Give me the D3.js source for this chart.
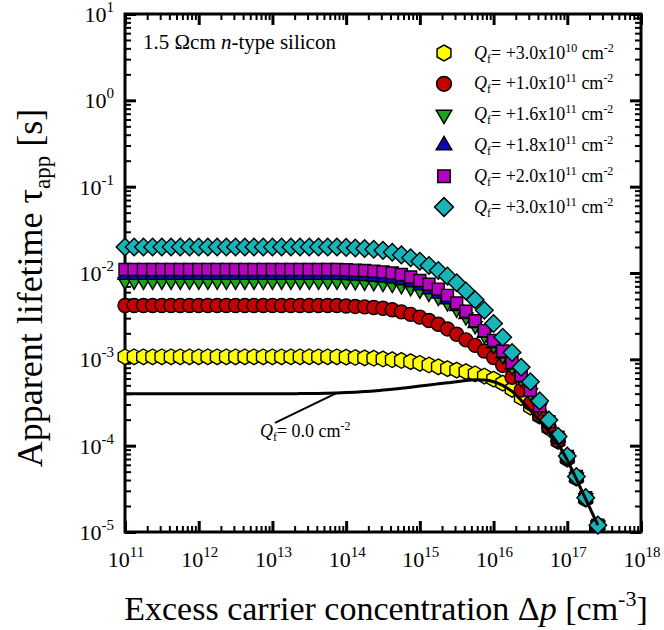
<!DOCTYPE html>
<html>
<head>
<meta charset="utf-8">
<script src="https://cdn.jsdelivr.net/npm/d3@7"></script>
<style>
  body { margin: 0; background: #fff; }
  text { font-family: "Liberation Serif", "Times New Roman", serif; fill: #000; white-space: pre; }
</style>
</head>
<body>
<svg id="chart" width="664" height="630"></svg>
<script>
// Excess carrier concentration Δp [cm^-3] at which lifetime is evaluated
const excessCarriers = [
  1.00e11, 1.33e11, 1.78e11, 2.37e11, 3.16e11, 4.22e11, 5.62e11, 7.50e11,
  1.00e12, 1.33e12, 1.78e12, 2.37e12, 3.16e12, 4.22e12, 5.62e12, 7.50e12,
  1.00e13, 1.33e13, 1.78e13, 2.37e13, 3.16e13, 4.22e13, 5.62e13, 7.50e13,
  1.00e14, 1.33e14, 1.78e14, 2.37e14, 3.16e14, 4.22e14, 5.62e14, 7.50e14,
  1.00e15, 1.33e15, 1.78e15, 2.37e15, 3.16e15, 4.22e15, 5.62e15, 7.50e15,
  1.00e16, 1.33e16, 1.78e16, 2.37e16, 3.16e16, 4.22e16, 5.62e16, 7.50e16,
  1.00e17, 1.33e17, 1.78e17, 2.60e17
];

// Apparent lifetime [s] for each fixed charge density Q_f
const tauQ30e10 = [
  1.07e-3, 1.07e-3, 1.07e-3, 1.07e-3, 1.07e-3, 1.07e-3, 1.07e-3, 1.07e-3,
  1.07e-3, 1.07e-3, 1.07e-3, 1.07e-3, 1.07e-3, 1.07e-3, 1.07e-3, 1.07e-3,
  1.07e-3, 1.07e-3, 1.07e-3, 1.07e-3, 1.07e-3, 1.07e-3, 1.07e-3, 1.07e-3,
  1.06e-3, 1.05e-3, 1.04e-3, 1.03e-3, 1.01e-3, 9.9e-4, 9.7e-4, 9.4e-4,
  9.0e-4, 8.6e-4, 8.2e-4, 7.8e-4, 7.5e-4, 7.2e-4, 6.8e-4, 6.4e-4,
  5.9e-4, 5.3e-4, 4.5e-4, 3.6e-4, 2.8e-4, 2.2e-4, 1.6e-4, 1.12e-4,
  7.0e-5, 4.2e-5, 2.4e-5, 1.2e-5
];
const tauQ10e11 = [
  4.2e-3, 4.2e-3, 4.2e-3, 4.2e-3, 4.2e-3, 4.2e-3, 4.2e-3, 4.2e-3,
  4.2e-3, 4.2e-3, 4.2e-3, 4.2e-3, 4.2e-3, 4.2e-3, 4.2e-3, 4.2e-3,
  4.2e-3, 4.2e-3, 4.2e-3, 4.2e-3, 4.2e-3, 4.2e-3, 4.2e-3, 4.2e-3,
  4.15e-3, 4.1e-3, 4.05e-3, 3.98e-3, 3.9e-3, 3.75e-3, 3.55e-3, 3.32e-3,
  3.08e-3, 2.82e-3, 2.55e-3, 2.25e-3, 1.95e-3, 1.68e-3, 1.45e-3, 1.25e-3,
  1.05e-3, 8.5e-4, 6.2e-4, 4.4e-4, 3.1e-4, 2.25e-4, 1.65e-4, 1.15e-4,
  7.2e-5, 4.3e-5, 2.45e-5, 1.2e-5
];
const tauQ16e11 = [
  8.0e-3, 8.0e-3, 8.0e-3, 8.0e-3, 8.0e-3, 8.0e-3, 8.0e-3, 8.0e-3,
  8.0e-3, 8.0e-3, 8.0e-3, 8.0e-3, 8.0e-3, 8.0e-3, 8.0e-3, 8.0e-3,
  8.0e-3, 8.0e-3, 8.0e-3, 8.0e-3, 8.0e-3, 8.0e-3, 8.0e-3, 8.0e-3,
  8.0e-3, 7.9e-3, 7.8e-3, 7.7e-3, 7.55e-3, 7.35e-3, 7.1e-3, 6.75e-3,
  6.3e-3, 5.8e-3, 5.2e-3, 4.5e-3, 3.8e-3, 3.1e-3, 2.45e-3, 1.9e-3,
  1.45e-3, 1.1e-3, 8.2e-4, 5.9e-4, 4.1e-4, 2.75e-4, 1.82e-4, 1.22e-4,
  7.4e-5, 4.35e-5, 2.5e-5, 1.2e-5
];
const tauQ18e11 = [
  9.4e-3, 9.4e-3, 9.4e-3, 9.4e-3, 9.4e-3, 9.4e-3, 9.4e-3, 9.4e-3,
  9.4e-3, 9.4e-3, 9.4e-3, 9.4e-3, 9.4e-3, 9.4e-3, 9.4e-3, 9.4e-3,
  9.4e-3, 9.4e-3, 9.4e-3, 9.4e-3, 9.4e-3, 9.4e-3, 9.4e-3, 9.4e-3,
  9.35e-3, 9.25e-3, 9.1e-3, 8.95e-3, 8.75e-3, 8.5e-3, 8.15e-3, 7.7e-3,
  7.1e-3, 6.4e-3, 5.7e-3, 4.9e-3, 4.1e-3, 3.3e-3, 2.6e-3, 2.0e-3,
  1.52e-3, 1.15e-3, 8.6e-4, 6.1e-4, 4.2e-4, 2.8e-4, 1.85e-4, 1.24e-4,
  7.4e-5, 4.35e-5, 2.5e-5, 1.2e-5
];
const tauQ20e11 = [
  1.1e-2, 1.1e-2, 1.1e-2, 1.1e-2, 1.1e-2, 1.1e-2, 1.1e-2, 1.1e-2,
  1.1e-2, 1.1e-2, 1.1e-2, 1.1e-2, 1.1e-2, 1.1e-2, 1.1e-2, 1.1e-2,
  1.1e-2, 1.1e-2, 1.1e-2, 1.1e-2, 1.1e-2, 1.1e-2, 1.1e-2, 1.1e-2,
  1.09e-2, 1.08e-2, 1.07e-2, 1.05e-2, 1.03e-2, 1.0e-2, 9.6e-3, 9.0e-3,
  8.2e-3, 7.4e-3, 6.5e-3, 5.5e-3, 4.5e-3, 3.6e-3, 2.8e-3, 2.15e-3,
  1.65e-3, 1.25e-3, 9.2e-4, 6.5e-4, 4.4e-4, 2.9e-4, 1.9e-4, 1.25e-4,
  7.5e-5, 4.4e-5, 2.5e-5, 1.2e-5
];
const tauQ30e11 = [
  2.0e-2, 2.0e-2, 2.0e-2, 2.0e-2, 2.0e-2, 2.0e-2, 2.0e-2, 2.0e-2,
  2.0e-2, 2.0e-2, 2.0e-2, 2.0e-2, 2.0e-2, 2.0e-2, 2.0e-2, 2.0e-2,
  2.0e-2, 2.0e-2, 2.0e-2, 2.0e-2, 2.0e-2, 2.0e-2, 2.0e-2, 2.0e-2,
  1.98e-2, 1.95e-2, 1.92e-2, 1.88e-2, 1.83e-2, 1.74e-2, 1.62e-2, 1.5e-2,
  1.37e-2, 1.22e-2, 1.07e-2, 9.2e-3, 7.7e-3, 6.2e-3, 4.9e-3, 3.7e-3,
  2.6e-3, 1.8e-3, 1.2e-3, 8.1e-4, 5.5e-4, 3.3e-4, 1.98e-4, 1.28e-4,
  7.6e-5, 4.4e-5, 2.5e-5, 1.2e-5
];
// Uncharged reference surface (solid line)
const tauQ0 = [
  4.0e-4, 4.0e-4, 4.0e-4, 4.0e-4, 4.0e-4, 4.0e-4, 4.0e-4, 4.0e-4,
  4.0e-4, 4.0e-4, 4.0e-4, 4.0e-4, 4.0e-4, 4.0e-4, 4.0e-4, 4.0e-4,
  4.0e-4, 4.0e-4, 4.0e-4, 4.01e-4, 4.02e-4, 4.03e-4, 4.05e-4, 4.08e-4,
  4.12e-4, 4.17e-4, 4.23e-4, 4.3e-4, 4.4e-4, 4.5e-4, 4.62e-4, 4.75e-4,
  4.9e-4, 5.05e-4, 5.2e-4, 5.35e-4, 5.5e-4, 5.7e-4, 5.8e-4, 5.75e-4,
  5.5e-4, 5.0e-4, 4.25e-4, 3.35e-4, 2.55e-4, 1.95e-4, 1.45e-4, 1.05e-4,
  6.8e-5, 4.1e-5, 2.4e-5, 1.2e-5
];

// Legend entries: Q_f = mantissa x 10^exponent cm^-2
const seriesTau = [tauQ30e10, tauQ10e11, tauQ16e11, tauQ18e11, tauQ20e11, tauQ30e11];
const seriesMantissa = ["+3.0", "+1.0", "+1.6", "+1.8", "+2.0", "+3.0"];
const seriesExponent = ["10", "11", "11", "11", "11", "11"];
const seriesColor = ["#ffff00", "#c40000", "#1aa81a", "#0a0ab4", "#b800c0", "#16b6b8"];
const seriesShape = ["hexagon", "circle", "triangleDown", "triangleUp", "square", "diamond"];

// Axis tick labels (powers of ten)
const xTickExponents = [11, 12, 13, 14, 15, 16, 17, 18];
const yTickExponents = [1, 0, -1, -2, -3, -4, -5];

const svg = d3.select("#chart");
const m = { left: 125, right: 641, top: 14, bottom: 532 };

const x = d3.scaleLog().domain([1e11, 1e18]).range([m.left, m.right]);
const y = d3.scaleLog().domain([1e-5, 1e1]).range([m.bottom, m.top]);

// ---- ticks (inward on all four sides) ----
const majorX = xTickExponents.map(e => Math.pow(10, e));
const majorY = yTickExponents.map(e => Math.pow(10, e));
const minorX = [], minorY = [];
for (let e = 11; e < 18; e++) for (let k = 2; k <= 9; k++) minorX.push(k * Math.pow(10, e));
for (let e = -5; e < 1; e++) for (let k = 2; k <= 9; k++) minorY.push(k * Math.pow(10, e));

function styleAxis(g, w) {
  g.select(".domain").remove();
  g.selectAll(".tick line").attr("stroke", "#000").attr("stroke-width", w);
  g.selectAll(".tick text").remove();
}
const axes = svg.append("g");
const defs = [
  [d3.axisBottom, x, `translate(0,${m.bottom})`],
  [d3.axisTop, x, `translate(0,${m.top})`],
  [d3.axisLeft, y, `translate(${m.left},0)`],
  [d3.axisRight, y, `translate(${m.right},0)`]
];
defs.forEach(([fn, sc, tr]) => {
  const isX = sc === x;
  axes.append("g").attr("transform", tr)
    .call(fn(sc).tickValues(isX ? minorX : minorY).tickSize(-6).tickFormat(""))
    .call(g => styleAxis(g, 2));
  axes.append("g").attr("transform", tr)
    .call(fn(sc).tickValues(isX ? majorX : majorY).tickSize(-11).tickFormat(""))
    .call(g => styleAxis(g, 3));
});

// frame
svg.append("rect")
  .attr("x", m.left).attr("y", m.top)
  .attr("width", m.right - m.left).attr("height", m.bottom - m.top)
  .attr("fill", "none").attr("stroke", "#000").attr("stroke-width", 3);

// ---- tick labels ----
xTickExponents.forEach(e => {
  const t = svg.append("text").attr("x", x(Math.pow(10, e)) + 1).attr("y", 567)
    .attr("text-anchor", "middle").attr("font-size", 22);
  t.append("tspan").text("10");
  t.append("tspan").attr("dy", -10).attr("font-size", 15).text(String(e));
});
yTickExponents.forEach(e => {
  const t = svg.append("text").attr("x", 114).attr("y", y(Math.pow(10, e)) + 8)
    .attr("text-anchor", "end").attr("font-size", 22);
  t.append("tspan").text("10");
  t.append("tspan").attr("dy", -10).attr("font-size", 15).text(e < 0 ? "-" + (-e) : String(e));
});

// ---- axis titles ----
const xt = svg.append("text").attr("x", 386).attr("y", 620)
  .attr("text-anchor", "middle").attr("font-size", 34);
xt.append("tspan").text("Excess carrier concentration Δ");
xt.append("tspan").attr("font-style", "italic").text("p");
xt.append("tspan").text(" [cm");
xt.append("tspan").attr("dy", -14).attr("font-size", 22).text("-3");
xt.append("tspan").attr("dy", 14).text("]");

const yt = svg.append("text")
  .attr("transform", "translate(42,288) rotate(-90)")
  .attr("text-anchor", "middle").attr("font-size", 36);
yt.append("tspan").text("Apparent lifetime τ");
yt.append("tspan").attr("dy", 8).attr("font-size", 23).text("app");
yt.append("tspan").attr("dy", -8).text(" [s]");

// ---- marker shapes ----
function shapePath(shape, s) {
  const p = d3.path();
  if (shape === "circle") {
    p.arc(0, 0, s.circle, 0, 2 * Math.PI);
  } else if (shape === "hexagon") {
    for (let k = 0; k < 6; k++) {
      const a = -Math.PI / 2 + k * Math.PI / 3;
      const px = s.hex * Math.cos(a), py = s.hex * Math.sin(a);
      k ? p.lineTo(px, py) : p.moveTo(px, py);
    }
  } else if (shape === "triangleUp" || shape === "triangleDown") {
    const h = s.tri * Math.sqrt(3) / 2, dir = shape === "triangleUp" ? 1 : -1;
    p.moveTo(0, -dir * h * 2 / 3);
    p.lineTo(s.tri / 2, dir * h / 3);
    p.lineTo(-s.tri / 2, dir * h / 3);
  } else if (shape === "square") {
    p.rect(-s.sq / 2, -s.sq / 2, s.sq, s.sq);
  } else if (shape === "diamond") {
    p.moveTo(0, -s.dia); p.lineTo(s.dia, 0); p.lineTo(0, s.dia); p.lineTo(-s.dia, 0);
  }
  p.closePath();
  return p.toString();
}
const plotSize = { circle: 7.0, hex: 7.8, tri: 14, sq: 12, dia: 8.8 };
const legendSize = { circle: 7.4, hex: 8.0, tri: 15.5, sq: 12.5, dia: 9.4 };

// ---- data markers ----
seriesTau.forEach((tau, si) => {
  const d = excessCarriers.map((dp, i) => ({ dp, tau: tau[i] }));
  svg.append("g").selectAll("path").data(d).join("path")
    .attr("transform", p => `translate(${x(p.dp)},${y(p.tau)})`)
    .attr("d", shapePath(seriesShape[si], plotSize))
    .attr("fill", seriesColor[si])
    .attr("stroke", "#000").attr("stroke-width", 1.4);
});

// ---- Q_f = 0 curve ----
const q0 = excessCarriers.map((dp, i) => ({ dp, tau: tauQ0[i] }));
svg.append("path").datum(q0)
  .attr("d", d3.line().x(p => x(p.dp)).y(p => y(p.tau)).curve(d3.curveMonotoneX))
  .attr("fill", "none").attr("stroke", "#000").attr("stroke-width", 3);

// leader and label for the uncharged curve
const anchor = q0[23];
const ax = x(anchor.dp), ay = y(anchor.tau);
svg.append("line").attr("x1", ax).attr("y1", ay).attr("x2", ax - 62).attr("y2", ay + 30)
  .attr("stroke", "#000").attr("stroke-width", 2);
const ql = svg.append("text").attr("x", ax - 77).attr("y", ay + 44).attr("font-size", 18);
ql.append("tspan").attr("font-style", "italic").text("Q");
ql.append("tspan").attr("dy", 4).attr("font-size", 12).text("f");
ql.append("tspan").attr("dy", -4).text("= 0.0 cm");
ql.append("tspan").attr("dy", -7).attr("font-size", 12).text("-2");

// ---- annotation ----
const ann = svg.append("text").attr("x", 143).attr("y", 49).attr("font-size", 21);
ann.append("tspan").text("1.5 Ωcm ");
ann.append("tspan").attr("font-style", "italic").text("n");
ann.append("tspan").text("-type silicon");

// ---- legend ----
const legend = svg.append("g");
seriesTau.forEach((tau, si) => {
  const ry = 53 + si * 30.8;
  legend.append("path")
    .attr("transform", `translate(444,${ry})`)
    .attr("d", shapePath(seriesShape[si], legendSize))
    .attr("fill", seriesColor[si]).attr("stroke", "#000").attr("stroke-width", 1.5);
  const t = legend.append("text").attr("x", 474).attr("y", ry + 5.5).attr("font-size", 18);
  t.append("tspan").attr("font-style", "italic").text("Q");
  t.append("tspan").attr("dy", 4).attr("font-size", 12).text("f");
  t.append("tspan").attr("dy", -4).text("= " + seriesMantissa[si] + "x10");
  t.append("tspan").attr("dy", -7).attr("font-size", 12).text(seriesExponent[si]);
  t.append("tspan").attr("dy", 7).text(" cm");
  t.append("tspan").attr("dy", -7).attr("font-size", 12).text("-2");
});
</script>
</body>
</html>
